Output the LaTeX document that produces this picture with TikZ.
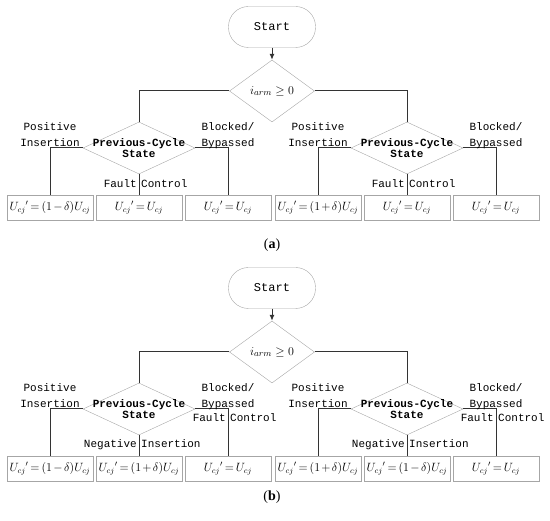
\documentclass[tikz,border=0pt]{standalone}
\usepackage{amsmath,amssymb}
\usepackage{fontspec}
\setmainfont{Liberation Serif}
\setmonofont{Liberation Mono}
\usetikzlibrary{shapes.geometric,arrows.meta}
\newcommand{\tightmu}{\thickmuskip=3mu\relax\medmuskip=2mu\relax}

\begin{document}
\begin{tikzpicture}[x=1pt,y=-1pt,
  startbox/.style={draw=black!35,rounded corners=20pt,minimum width=87pt,minimum height=41pt,font=\ttfamily\fontsize{12}{12}\selectfont},
  test/.style={draw=black!35,shape=diamond,inner sep=0pt,minimum width=85pt,minimum height=62pt},
  state/.style={draw=black!35,shape=diamond,inner sep=0pt,minimum width=112pt,minimum height=52pt},
  result/.style={draw=black!35,minimum width=86pt,minimum height=25pt,inner sep=0pt,
    font=\fontsize{11.5}{12}\selectfont\tightmu},
  lbl/.style={font=\ttfamily\fontsize{11}{16}\selectfont,inner sep=1pt,inner xsep=2pt,align=center,text depth=0pt},
  statetext/.style={font=\ttfamily\bfseries\fontsize{11}{11}\selectfont,align=center},
  link/.style={draw=black!80,line width=1pt}]
\useasboundingbox (0,0) rectangle (550,521);

\path (272,27) node[startbox] (aS) {Start};
\path (272,91) node[test] (aT) {};
\path (aT) node[font=\fontsize{13}{13}\selectfont] (aTt) {$i_{arm}\geq 0$};
\path (139,148) node[state] (aL) {};
\path (407,148) node[state] (aR) {};
\path (aL) node[statetext] (aLt) {Previous-Cycle\\State};
\path (aR) node[statetext] (aRt) {Previous-Cycle\\State};
\path (50,207.5) node[result] (a1) {$U_{cj}{}'=(1-\delta)U_{cj}$};
\path (139,207.5) node[result] (a2) {$U_{cj}{}'=U_{cj}$};
\path (228,207.5) node[result] (a3) {$U_{cj}{}'=U_{cj}$};
\path (318,207.5) node[result] (a4) {$U_{cj}{}'=(1+\delta)U_{cj}$};
\path (407,207.5) node[result] (a5) {$U_{cj}{}'=U_{cj}$};
\path (496,207.5) node[result] (a6) {$U_{cj}{}'=U_{cj}$};

\draw[link,-{Latex[length=6pt,width=5pt]}] (aS) -- (aT);
\draw[link] (aT.west) -| (aL.north);
\draw[link] (aT.east) -| (aR.north);
\draw[link] (aL.west) -| (a1);
\draw[link] (aL.south) -- (a2);
\draw[link] (aL.east) -| (a3);
\draw[link] (aR.west) -| (a4);
\draw[link] (aR.south) -- (a5);
\draw[link] (aR.east) -| (a6);

\path (a1 |- aL.west) node[lbl,anchor=south] (aP1) {Positive\\Insertion};
\path (a3 |- aL.east) node[lbl,anchor=south] (aB1) {Blocked/\\Bypassed};
\path (a4 |- aR.west) node[lbl,anchor=south] (aP2) {Positive\\Insertion};
\path (a6 |- aR.east) node[lbl,anchor=south] (aB2) {Blocked/\\Bypassed};
\path (a2.north) ++(0,-7) node[lbl,anchor=base east] (aF1) {Fault} node[lbl,anchor=base west] (aC1) {Control};
\path (a5.north) ++(0,-7) node[lbl,anchor=base east] (aF2) {Fault} node[lbl,anchor=base west] (aC2) {Control};
\path (272,245) node[font=\fontsize{14}{14}\selectfont] (capA) {(\textbf{a})};

\path (272,288) node[startbox] (bS) {Start};
\path (272,352) node[test] (bT) {};
\path (bT) node[font=\fontsize{13}{13}\selectfont] (bTt) {$i_{arm}\geq 0$};
\path (139,409) node[state] (bL) {};
\path (407,409) node[state] (bR) {};
\path (bL) node[statetext] (bLt) {Previous-Cycle\\State};
\path (bR) node[statetext] (bRt) {Previous-Cycle\\State};
\path (50,468.5) node[result] (b1) {$U_{cj}{}'=(1-\delta)U_{cj}$};
\path (139,468.5) node[result] (b2) {$U_{cj}{}'=(1+\delta)U_{cj}$};
\path (228,468.5) node[result] (b3) {$U_{cj}{}'=U_{cj}$};
\path (318,468.5) node[result] (b4) {$U_{cj}{}'=(1+\delta)U_{cj}$};
\path (407,468.5) node[result] (b5) {$U_{cj}{}'=(1-\delta)U_{cj}$};
\path (496,468.5) node[result] (b6) {$U_{cj}{}'=U_{cj}$};

\draw[link,-{Latex[length=6pt,width=5pt]}] (bS) -- (bT);
\draw[link] (bT.west) -| (bL.north);
\draw[link] (bT.east) -| (bR.north);
\draw[link] (bL.west) -| (b1);
\draw[link] (bL.south) -- (b2);
\draw[link] (bL.east) -| (b3);
\draw[link] (bR.west) -| (b4);
\draw[link] (bR.south) -- (b5);
\draw[link] (bR.east) -| (b6);

\path (b1 |- bL.west) node[lbl,anchor=south] (bP1) {Positive\\Insertion};
\path (b3 |- bL.east) node[lbl,anchor=south] (bB1) {Blocked/\\Bypassed};
\path (b4 |- bR.west) node[lbl,anchor=south] (bP2) {Positive\\Insertion};
\path (b6 |- bR.east) node[lbl,anchor=south] (bB2) {Blocked/\\Bypassed};
\path (b2.north) ++(0,-8) node[lbl,anchor=base east] (bN1) {Negative} node[lbl,anchor=base west] (bI1) {Insertion};
\path (b5.north) ++(0,-8) node[lbl,anchor=base east] (bN2) {Negative} node[lbl,anchor=base west] (bI2) {Insertion};
\path (b3 |- bL.east) ++(0,13) node[lbl,anchor=base east] (bF1) {Fault} node[lbl,anchor=base west] (bC1) {Control};
\path (b6 |- bR.east) ++(0,13) node[lbl,anchor=base east] (bF2) {Fault} node[lbl,anchor=base west] (bC2) {Control};
\path (272,497) node[font=\fontsize{14}{14}\selectfont] (capB) {(\textbf{b})};
\end{tikzpicture}
\end{document}
